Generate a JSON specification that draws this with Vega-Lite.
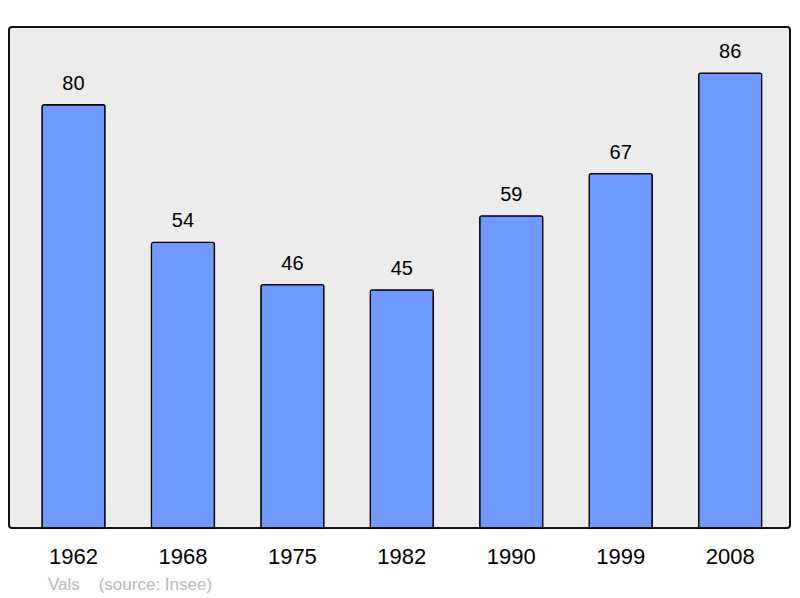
{
  "$schema": "https://vega.github.io/schema/vega-lite/v6.json",
  "autosize": {"type": "none"},
  "width": 781,
  "height": 501,
  "padding": {"left": 9, "top": 27, "right": 10, "bottom": 70},
  "background": "white",
  "config": {
    "view": {"fill": "#ececec", "stroke": "#111111", "strokeWidth": 2, "cornerRadius": 3},
    "font": "Liberation Sans"
  },
  "title": {
    "text": "Vals\u00a0\u00a0\u00a0\u00a0(source: Insee)",
    "orient": "bottom",
    "anchor": "start",
    "dx": 39,
    "offset": 10,
    "fontSize": 17,
    "fontWeight": "normal",
    "color": "#b8b8b8",
    "font": "Liberation Sans"
  },
  "data": {
    "values": [
      {"year": "1962", "pop": 80},
      {"year": "1968", "pop": 54},
      {"year": "1975", "pop": 46},
      {"year": "1982", "pop": 45},
      {"year": "1990", "pop": 59},
      {"year": "1999", "pop": 67},
      {"year": "2008", "pop": 86}
    ]
  },
  "encoding": {
    "x": {
      "field": "year",
      "type": "nominal",
      "sort": null,
      "scale": {"paddingInner": 0.424, "paddingOuter": 0.28, "align": 0.538, "round": false},
      "axis": {
        "title": null,
        "labelAngle": 0,
        "labelFontSize": 22,
        "labelColor": "#000000",
        "labelPadding": 18,
        "ticks": false,
        "domain": false,
        "grid": false
      }
    },
    "y": {
      "field": "pop",
      "type": "quantitative",
      "scale": {"domain": [0, 94.7], "nice": false},
      "axis": null
    }
  },
  "layer": [
    {
      "mark": {"type": "bar", "fill": "#7099ff", "stroke": "#000000", "strokeWidth": 1.3, "cornerRadiusTopLeft": 2, "cornerRadiusTopRight": 2}
    },
    {
      "mark": {"type": "text", "baseline": "bottom", "dy": -11, "fontSize": 20, "color": "#000000"},
      "encoding": {"text": {"field": "pop", "type": "quantitative"}}
    }
  ]
}
